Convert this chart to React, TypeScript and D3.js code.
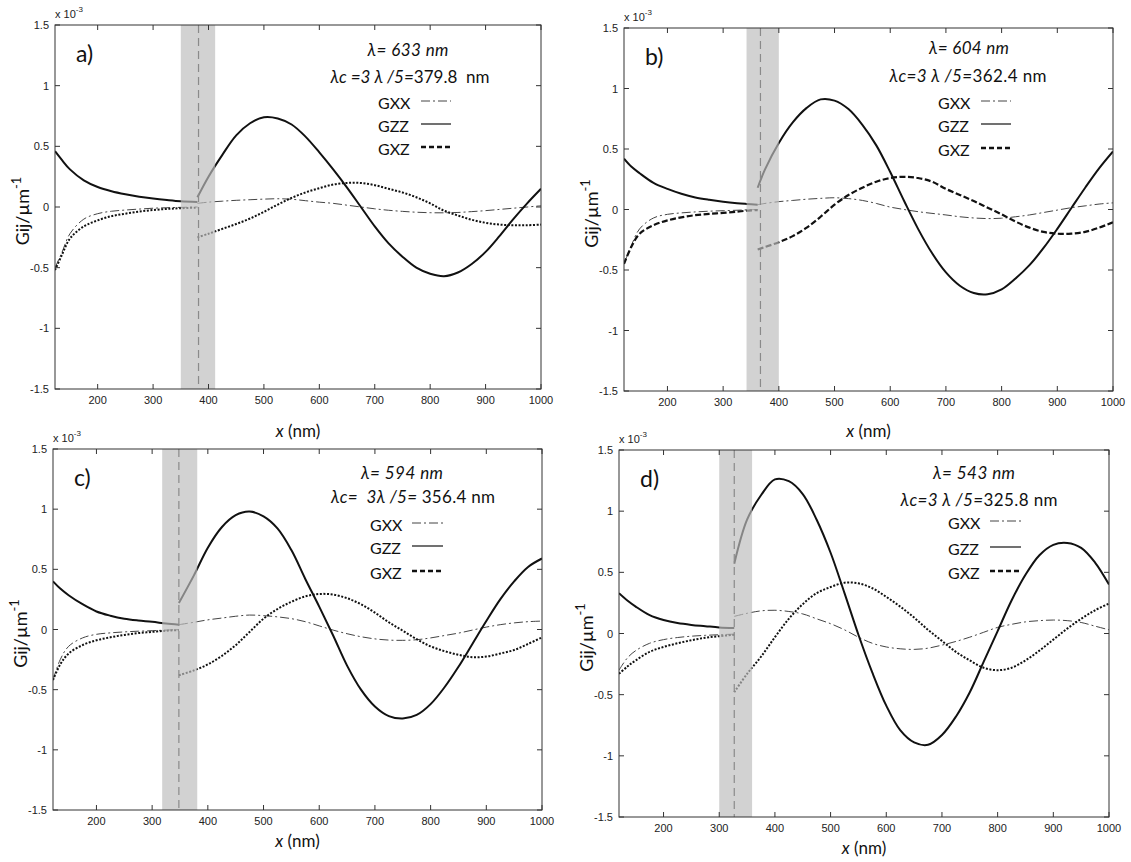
import React from "react";
import * as d3 from "d3";

// ---------- shared tick values ----------
const X_TICKS = [200, 300, 400, 500, 600, 700, 800, 900, 1000];
const Y_TICKS = [-1.5, -1, -0.5, 0, 0.5, 1, 1.5];
const Y_TICK_LABELS = ["-1.5", "-1", "-0.5", "0", "0.5", "1", "1.5"];

// ---------- panel a (λ = 633 nm) ----------
const A_X_LEFT = [123, 135, 150, 175, 200, 225, 250, 275, 300, 325, 350, 380];
const A_ZZ_LEFT = [0.46, 0.39, 0.31, 0.22, 0.165, 0.13, 0.105, 0.085, 0.07, 0.058, 0.048, 0.042];
const A_XX_LEFT = [-0.5, -0.38, -0.22, -0.1, -0.055, -0.035, -0.025, -0.017, -0.01, -0.006, -0.003, 0.0];
const A_XZ_LEFT = [-0.52, -0.4, -0.26, -0.16, -0.11, -0.075, -0.055, -0.038, -0.025, -0.016, -0.01, -0.005];
const A_X_RIGHT = [380, 400, 425, 450, 475, 500, 525, 550, 575, 600, 625, 650, 675, 700, 725, 750, 775, 800, 825, 850, 875, 900, 925, 950, 975, 1000];
const A_ZZ_RIGHT = [0.08, 0.25, 0.43, 0.59, 0.69, 0.74, 0.73, 0.68, 0.58, 0.45, 0.31, 0.16, 0.0, -0.16, -0.3, -0.41, -0.5, -0.55, -0.57, -0.54, -0.47, -0.37, -0.24, -0.1, 0.03, 0.15];
const A_XX_RIGHT = [0.03, 0.04, 0.048, 0.055, 0.06, 0.065, 0.068, 0.064, 0.052, 0.04, 0.03, 0.015, 0.0, -0.015, -0.027, -0.036, -0.043, -0.047, -0.048, -0.045, -0.038, -0.03, -0.02, -0.01, 0.0, 0.01];
const A_XZ_RIGHT = [-0.25, -0.22, -0.18, -0.14, -0.095, -0.04, 0.02, 0.075, 0.12, 0.155, 0.185, 0.198, 0.198, 0.18, 0.15, 0.12, 0.08, 0.03, -0.03, -0.07, -0.105, -0.13, -0.145, -0.15, -0.15, -0.145];

// ---------- panel b (λ = 604 nm) ----------
const B_X_LEFT = [122, 135, 150, 175, 200, 225, 250, 275, 300, 325, 342, 362];
const B_ZZ_LEFT = [0.42, 0.355, 0.3, 0.22, 0.17, 0.13, 0.1, 0.08, 0.064, 0.052, 0.046, 0.04];
const B_XX_LEFT = [-0.45, -0.3, -0.16, -0.07, -0.04, -0.028, -0.02, -0.014, -0.01, -0.006, -0.003, 0.0];
const B_XZ_LEFT = [-0.45, -0.31, -0.2, -0.13, -0.09, -0.065, -0.047, -0.036, -0.028, -0.018, -0.01, -0.005];
const B_X_RIGHT = [362, 375, 400, 425, 450, 475, 500, 525, 550, 575, 600, 625, 650, 675, 700, 725, 750, 775, 800, 825, 850, 875, 900, 925, 950, 975, 1000];
const B_ZZ_RIGHT = [0.18, 0.33, 0.55, 0.72, 0.84, 0.91, 0.9, 0.83, 0.7, 0.53, 0.31, 0.07, -0.16, -0.36, -0.52, -0.63, -0.69, -0.7, -0.66, -0.57, -0.46, -0.32, -0.16, 0.01, 0.18, 0.34, 0.48];
const B_XX_RIGHT = [0.04, 0.05, 0.065, 0.075, 0.085, 0.092, 0.097, 0.09, 0.075, 0.05, 0.02, 0.0, -0.018, -0.032, -0.045, -0.06, -0.07, -0.075, -0.072, -0.06, -0.045, -0.025, -0.005, 0.015, 0.03, 0.045, 0.055];
const B_XZ_RIGHT = [-0.33, -0.31, -0.27, -0.22, -0.15, -0.06, 0.04, 0.12, 0.18, 0.23, 0.26, 0.27, 0.26, 0.23, 0.17, 0.12, 0.07, 0.015, -0.04, -0.1, -0.15, -0.185, -0.2, -0.2, -0.185, -0.15, -0.105];

// ---------- panel c (λ = 594 nm) ----------
const C_X_LEFT = [122, 135, 150, 175, 200, 225, 250, 275, 300, 325, 348];
const C_ZZ_LEFT = [0.4, 0.34, 0.285, 0.21, 0.15, 0.115, 0.09, 0.075, 0.064, 0.05, 0.04];
const C_XX_LEFT = [-0.42, -0.25, -0.14, -0.07, -0.04, -0.028, -0.02, -0.014, -0.01, -0.005, 0.0];
const C_XZ_LEFT = [-0.42, -0.29, -0.2, -0.13, -0.09, -0.065, -0.045, -0.03, -0.02, -0.01, -0.005];
const C_X_RIGHT = [348, 375, 400, 425, 450, 475, 500, 525, 550, 575, 600, 625, 650, 675, 700, 725, 750, 775, 800, 825, 850, 875, 900, 925, 950, 975, 1000];
const C_ZZ_RIGHT = [0.22, 0.45, 0.68, 0.85, 0.95, 0.98, 0.94, 0.84, 0.66, 0.42, 0.19, -0.05, -0.3, -0.5, -0.64, -0.72, -0.74, -0.71, -0.62, -0.48, -0.31, -0.12, 0.07, 0.25, 0.4, 0.52, 0.59];
const C_XX_RIGHT = [0.04, 0.06, 0.08, 0.095, 0.11, 0.12, 0.115, 0.105, 0.09, 0.065, 0.03, -0.005, -0.035, -0.06, -0.078, -0.088, -0.09, -0.085, -0.07, -0.05, -0.03, -0.005, 0.02, 0.04, 0.055, 0.065, 0.07];
const C_XZ_RIGHT = [-0.38, -0.34, -0.29, -0.22, -0.13, -0.02, 0.09, 0.17, 0.23, 0.275, 0.295, 0.29, 0.26, 0.21, 0.14, 0.06, -0.01, -0.08, -0.14, -0.18, -0.21, -0.23, -0.225, -0.2, -0.17, -0.12, -0.065];

// ---------- panel d (λ = 543 nm) ----------
const D_X_LEFT = [120, 135, 150, 175, 200, 225, 250, 275, 300, 327];
const D_ZZ_LEFT = [0.33, 0.27, 0.22, 0.15, 0.11, 0.085, 0.07, 0.06, 0.05, 0.044];
const D_XX_LEFT = [-0.3, -0.2, -0.14, -0.08, -0.05, -0.033, -0.022, -0.015, -0.01, -0.005];
const D_XZ_LEFT = [-0.33, -0.27, -0.22, -0.15, -0.11, -0.08, -0.055, -0.035, -0.022, -0.01];
const D_X_RIGHT = [327, 350, 375, 400, 425, 450, 475, 500, 525, 550, 575, 600, 625, 650, 675, 700, 725, 750, 775, 800, 825, 850, 875, 900, 925, 950, 975, 1000];
const D_ZZ_RIGHT = [0.57, 0.93, 1.13, 1.26, 1.245, 1.14, 0.93, 0.66, 0.33, -0.01, -0.32, -0.59, -0.79, -0.89, -0.91, -0.83, -0.68, -0.48, -0.23, 0.02, 0.27, 0.48, 0.64, 0.725, 0.74, 0.7, 0.58, 0.4];
const D_XX_RIGHT = [0.14, 0.165, 0.185, 0.19, 0.18, 0.16, 0.12, 0.08, 0.03, -0.03, -0.08, -0.11, -0.125, -0.13, -0.12, -0.095, -0.065, -0.03, 0.01, 0.05, 0.075, 0.095, 0.105, 0.11, 0.105, 0.09, 0.06, 0.03];
const D_XZ_RIGHT = [-0.48, -0.33, -0.19, -0.03, 0.12, 0.24, 0.33, 0.38, 0.415, 0.41, 0.37, 0.3, 0.22, 0.13, 0.03, -0.06, -0.15, -0.22, -0.28, -0.3, -0.28, -0.22, -0.14, -0.05, 0.04, 0.12, 0.19, 0.245];

// ---------- panel layout / annotations ----------
const PANELS = [
  {
    label: "a)", lam: "633", lamcPrefix: "λc =3 λ /5=", lamcValue: "379.8  nm",
    box: { left: 55, top: 25, right: 541, bottom: 389 }, xMin: 123,
    shade: [350, 412], dashX: 382, gxzStyle: "dot", xLabelY: 437,
    leg: { l1x: 353, l1y: 25, l1w: 81, l2x: 355, l2y: 52, l2w: 159, gx: 323, rows: [78, 101, 124], lx1: 366, lx2: 396 },
    xl: A_X_LEFT, xr: A_X_RIGHT,
    zzL: A_ZZ_LEFT, xxL: A_XX_LEFT, xzL: A_XZ_LEFT,
    zzR: A_ZZ_RIGHT, xxR: A_XX_RIGHT, xzR: A_XZ_RIGHT,
  },
  {
    label: "b)", lam: "604", lamcPrefix: "λc=3 λ /5=", lamcValue: "362.4 nm",
    box: { left: 624, top: 28, right: 1113, bottom: 391 }, xMin: 122,
    shade: [342, 400], dashX: 367, gxzStyle: "dash", xLabelY: 437,
    leg: { l1x: 345, l1y: 20, l1w: 80, l2x: 344, l2y: 48, l2w: 157, gx: 314, rows: [75, 98, 122], lx1: 357, lx2: 387 },
    xl: B_X_LEFT, xr: B_X_RIGHT,
    zzL: B_ZZ_LEFT, xxL: B_XX_LEFT, xzL: B_XZ_LEFT,
    zzR: B_ZZ_RIGHT, xxR: B_XX_RIGHT, xzR: B_XZ_RIGHT,
  },
  {
    label: "c)", lam: "594", lamcPrefix: "λc=  3λ /5= ", lamcValue: "356.4 nm",
    box: { left: 53, top: 449, right: 542, bottom: 810 }, xMin: 122,
    shade: [318, 381], dashX: 348, gxzStyle: "dot", xLabelY: 847,
    leg: { l1x: 349, l1y: 24, l1w: 82, l2x: 360, l2y: 48, l2w: 164, gx: 317, rows: [76, 99, 124], lx1: 359, lx2: 390 },
    xl: C_X_LEFT, xr: C_X_RIGHT,
    zzL: C_ZZ_LEFT, xxL: C_XX_LEFT, xzL: C_XZ_LEFT,
    zzR: C_ZZ_RIGHT, xxR: C_XX_RIGHT, xzR: C_XZ_RIGHT,
  },
  {
    label: "d)", lam: "543", lamcPrefix: "λc=3 λ /5=", lamcValue: "325.8 nm",
    box: { left: 619, top: 450, right: 1109, bottom: 817 }, xMin: 120,
    shade: [300, 359], dashX: 327, gxzStyle: "dot", xLabelY: 854,
    leg: { l1x: 355, l1y: 23, l1w: 82, l2x: 360, l2y: 50, l2w: 157, gx: 329, rows: [73, 99, 123], lx1: 371, lx2: 402 },
    xl: D_X_LEFT, xr: D_X_RIGHT,
    zzL: D_ZZ_LEFT, xxL: D_XX_LEFT, xzL: D_XZ_LEFT,
    zzR: D_ZZ_RIGHT, xxR: D_XX_RIGHT, xzR: D_XZ_RIGHT,
  },
];

const TEXT_FONT = "Lato, 'Noto Sans', 'DejaVu Sans', sans-serif";
const TICK_FONT = "'Liberation Sans', Arial, sans-serif";

const STYLE_XX = { stroke: "#444", strokeWidth: 1, dash: "9,3,2,3" };
const STYLE_ZZ = { stroke: "#111", strokeWidth: 2, dash: undefined as string | undefined };
const STYLE_XZ_DOT = { stroke: "#111", strokeWidth: 2, dash: "2,1.6" };
const STYLE_XZ_DASH = { stroke: "#111", strokeWidth: 2.2, dash: "6,2.5" };

function Panel({ p, idx }: { p: (typeof PANELS)[number]; idx: number }) {
  const { left, top, right, bottom } = p.box;
  const x = d3.scaleLinear().domain([p.xMin, 1000]).range([left, right]);
  const y = d3.scaleLinear().domain([-1.5, 1.5]).range([bottom, top]);
  const line = d3
    .line<[number, number]>()
    .x((d) => x(d[0]))
    .y((d) => y(d[1]))
    .curve(d3.curveCatmullRom.alpha(0.5));
  const pts = (xs: number[], ys: number[]) => xs.map((v, i) => [v, ys[i]] as [number, number]);
  const xzStyle = p.gxzStyle === "dash" ? STYLE_XZ_DASH : STYLE_XZ_DOT;
  const clipId = `clip-${idx}`;

  const curves = [
    { d: line(pts(p.xl, p.xxL)), s: STYLE_XX },
    { d: line(pts(p.xr, p.xxR)), s: STYLE_XX },
    { d: line(pts(p.xl, p.xzL)), s: xzStyle },
    { d: line(pts(p.xr, p.xzR)), s: xzStyle },
    { d: line(pts(p.xl, p.zzL)), s: STYLE_ZZ },
    { d: line(pts(p.xr, p.zzR)), s: STYLE_ZZ },
  ];

  const legendRows = [
    { name: "GXX", s: { stroke: "#444", strokeWidth: 1, dash: "9,3,2,3" } },
    { name: "GZZ", s: { stroke: "#111", strokeWidth: 1.2, dash: undefined as string | undefined } },
    { name: "GXZ", s: { stroke: "#111", strokeWidth: 2.5, dash: "5,3" } },
  ];

  const tick = 5;
  return (
    <g>
      <defs>
        <clipPath id={clipId}>
          <rect x={left} y={top} width={right - left} height={bottom - top} />
        </clipPath>
      </defs>
      <g clipPath={`url(#${clipId})`}>
        {curves.map((c, i) => (
          <path
            key={i}
            d={c.d || ""}
            fill="none"
            stroke={c.s.stroke}
            strokeWidth={c.s.strokeWidth}
            strokeDasharray={c.s.dash}
            strokeLinejoin="round"
          />
        ))}
        <rect
          x={x(p.shade[0])}
          y={top}
          width={x(p.shade[1]) - x(p.shade[0])}
          height={bottom - top}
          fill="#bdbdbd"
          fillOpacity={0.68}
        />
        <line
          x1={x(p.dashX)}
          x2={x(p.dashX)}
          y1={top}
          y2={bottom}
          stroke="#8a8a8a"
          strokeWidth={1.2}
          strokeDasharray="8,5"
        />
      </g>
      {/* axis box */}
      <rect x={left} y={top} width={right - left} height={bottom - top} fill="none" stroke="#333" strokeWidth={1} />
      {X_TICKS.map((t) => (
        <g key={`xt${t}`}>
          <line x1={x(t)} x2={x(t)} y1={bottom} y2={bottom - tick} stroke="#333" />
          <line x1={x(t)} x2={x(t)} y1={top} y2={top + tick} stroke="#333" />
          <text x={x(t)} y={bottom + 15} textAnchor="middle" fontFamily={TICK_FONT} fontSize={11} fill="#222">
            {t}
          </text>
        </g>
      ))}
      {Y_TICKS.map((t, i) => (
        <g key={`yt${t}`}>
          <line x1={left} x2={left + tick} y1={y(t)} y2={y(t)} stroke="#333" />
          <line x1={right} x2={right - tick} y1={y(t)} y2={y(t)} stroke="#333" />
          <text x={left - 6} y={y(t) + 4} textAnchor="end" fontFamily={TICK_FONT} fontSize={11} fill="#222">
            {Y_TICK_LABELS[i]}
          </text>
        </g>
      ))}
      {/* exponent */}
      <text x={left} y={top - 7} fontFamily={TICK_FONT} fontSize={11} fill="#222">
        x 10
        <tspan dy={-6} fontSize={8}>
          -3
        </tspan>
      </text>
      {/* panel label */}
      <text x={left + 21} y={top + 37} fontFamily={TEXT_FONT} fontSize={23} fill="#111">
        {p.label}
      </text>
      {/* annotations */}
      <text
        x={left + p.leg.l1x - p.leg.l1w / 2}
        y={top + p.leg.l1y + 6}
        fontFamily={TEXT_FONT}
        fontSize={17}
        fontStyle="italic"
        fill="#111"
        textLength={p.leg.l1w}
        lengthAdjust="spacing"
      >
        {`λ= ${p.lam} nm`}
      </text>
      <text
        x={left + p.leg.l2x - p.leg.l2w / 2}
        y={top + p.leg.l2y + 6}
        fontFamily={TEXT_FONT}
        fontSize={17}
        fill="#111"
        textLength={p.leg.l2w}
        lengthAdjust="spacing"
        style={{ whiteSpace: "pre" }}
      >
        <tspan fontStyle="italic">{p.lamcPrefix}</tspan>
        <tspan>{p.lamcValue}</tspan>
      </text>
      {legendRows.map((r, i) => (
        <g key={r.name}>
          <text x={left + p.leg.gx} y={top + p.leg.rows[i] + 5.5} fontFamily={TEXT_FONT} fontSize={16} fill="#111">
            {r.name}
          </text>
          <line
            x1={left + p.leg.lx1}
            x2={left + p.leg.lx2}
            y1={top + p.leg.rows[i] - 2}
            y2={top + p.leg.rows[i] - 2}
            stroke={r.s.stroke}
            strokeWidth={r.s.strokeWidth}
            strokeDasharray={r.s.dash}
          />
        </g>
      ))}
      {/* axis titles */}
      <text
        transform={`translate(${left - 26},${(top + bottom) / 2 + 4}) rotate(-90)`}
        textAnchor="middle"
        fontFamily={TEXT_FONT}
        fontSize={18}
        fill="#111"
      >
        Gij/µm
        <tspan dy={-8} fontSize={13}>
          -1
        </tspan>
      </text>
      <text x={(left + right) / 2} y={p.xLabelY} textAnchor="middle" fontFamily={TEXT_FONT} fontSize={17} fill="#111">
        <tspan fontStyle="italic">x</tspan>
        <tspan> (nm)</tspan>
      </text>
    </g>
  );
}

export default function App() {
  return (
    <svg
      width={1131}
      height={862}
      viewBox="0 0 1131 862"
      style={{ position: "absolute", left: 0, top: 0, background: "#fff" }}
    >
      <rect width={1131} height={862} fill="#fff" />
      {PANELS.map((p, i) => (
        <Panel key={p.label} p={p} idx={i} />
      ))}
    </svg>
  );
}
